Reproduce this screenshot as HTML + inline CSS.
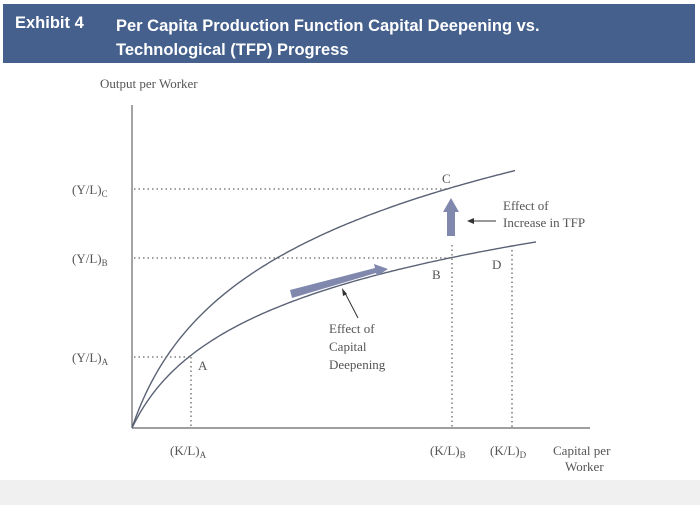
<!DOCTYPE html>
<html><head><style>
body{margin:0;width:700px;height:505px;background:#fff;overflow:hidden;font-family:"Liberation Serif",serif;}
.hdr{position:absolute;left:3px;top:4px;width:692px;height:59px;background:#45608c;color:#fff;font-family:"Liberation Sans",sans-serif;font-weight:bold;font-size:16.5px;}
.bot{position:absolute;left:0;top:480px;width:700px;height:25px;background:#f0f0f0;}
</style></head><body>
<div class="hdr">
<div style="position:absolute;left:12px;top:10px">Exhibit 4</div>
<div style="position:absolute;left:113px;top:10px;line-height:24px">Per Capita Production Function Capital Deepening vs.<br>Technological (TFP) Progress</div>
</div>
<div class="bot"></div>
<svg width="700" height="505" style="position:absolute;left:0;top:0" font-family="Liberation Serif, serif" fill="#555">
<g stroke="#666" stroke-width="1.2" fill="none">
<line x1="132" y1="105" x2="132" y2="428"/>
<line x1="132" y1="428" x2="590" y2="428"/>
</g>
<g stroke="#5a6275" stroke-width="1.4" fill="none" stroke-linejoin="round">
<path id="up"/>
<path id="lo"/>
</g>
<g stroke="#666" stroke-width="1.3" stroke-dasharray="1.5,3" fill="none">
<line x1="134" y1="189" x2="447" y2="189"/>
<line x1="134" y1="258" x2="452" y2="258"/>
<line x1="134" y1="357" x2="191" y2="357"/>
<line x1="191" y1="357" x2="191" y2="428"/>
<line x1="452" y1="245" x2="452" y2="428"/>
<line x1="512" y1="250" x2="512" y2="428"/>
</g>
<polygon points="290,290 375,268 374,264 388,269 377,276 376,273 292,298" fill="#8088ad"/>
<polygon points="447,236 447,212 443,212 451,198 459,212 455,212 455,236" fill="#8088ad"/>
<g stroke="#333" stroke-width="1"><line x1="358" y1="318" x2="344" y2="291"/><line x1="496" y1="221" x2="470" y2="221"/></g>
<polygon points="342,288 343,296 347,294" fill="#333"/><polygon points="467,221 474,218 474,224" fill="#333"/>
<g font-size="13">
<text x="100" y="88">Output per Worker</text>
<text x="72" y="194">(Y/L)<tspan font-size="9" dy="3">C</tspan></text>
<text x="72" y="263">(Y/L)<tspan font-size="9" dy="3">B</tspan></text>
<text x="72" y="362">(Y/L)<tspan font-size="9" dy="3">A</tspan></text>
<text x="170" y="455">(K/L)<tspan font-size="9" dy="3">A</tspan></text>
<text x="430" y="455">(K/L)<tspan font-size="9" dy="3">B</tspan></text>
<text x="490" y="455">(K/L)<tspan font-size="9" dy="3">D</tspan></text>
<text x="553" y="455">Capital per</text>
<text x="565" y="471">Worker</text>
<text x="442" y="183">C</text>
<text x="432" y="279">B</text>
<text x="492" y="269">D</text>
<text x="198" y="370">A</text>
<text x="503" y="210">Effect of</text>
<text x="503" y="227">Increase in TFP</text>
<text x="329" y="333">Effect of</text>
<text x="329" y="351">Capital</text>
<text x="329" y="369">Deepening</text>
</g>
</svg>
<script>
function mk(id,a,b,end){var d="M132,428";for(var dx=0.5;dx<=end;dx+=(dx<20?0.5:3)){d+=" L"+(132+dx).toFixed(1)+","+(428-a*Math.log(1+dx/b)).toFixed(1);}document.getElementById(id).setAttribute("d",d);}
mk("up",103.8,35,385);
mk("lo",73.6,35,405);
</script>
</body></html>
